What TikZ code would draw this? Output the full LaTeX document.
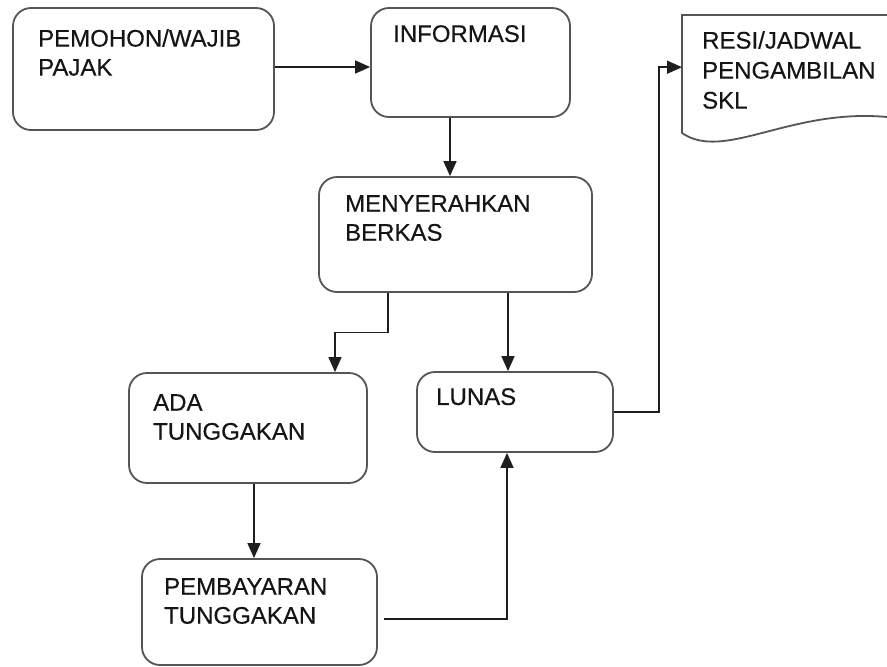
\documentclass[tikz,border=0pt]{standalone}
\usepackage{fontspec}
\setmainfont{Liberation Sans}
\newfontfamily\heavyfont{Liberation Sans}[FakeBold=0.4]
\usetikzlibrary{arrows.meta,calc}
\definecolor{boxline}{HTML}{555555}
\definecolor{arrline}{HTML}{1E1E1E}
\definecolor{txtcol}{HTML}{151515}
\tikzset{
  box/.style={draw=boxline, line width=1.8pt, rounded corners=18pt, inner sep=0pt},
  arr/.style={draw=arrline, line width=1.5pt, -{Triangle[length=15pt,width=13pt]}},
  txt/.style={anchor=north west, inner sep=0pt, align=left, text=txtcol,
              font=\heavyfont\fontsize{24}{29}\selectfont},
  doctxt/.style={txt, font=\heavyfont\fontsize{24}{30}\selectfont}
}
\begin{document}
\begin{tikzpicture}[x=1pt,y=-1pt]
\useasboundingbox (0,0) rectangle (887,667);
\fill[white] (0,0) rectangle (887,667);

% boxes
\node[box, minimum width=261pt, minimum height=122pt] (pem) at (143.5,69) {};
\node[box, minimum width=199pt, minimum height=109pt] (info) at (470.5,62.5) {};
\node[box, minimum width=273pt, minimum height=115pt] (men) at (455.5,234.5) {};
\node[box, minimum width=238pt, minimum height=110pt] (ada) at (248,428) {};
\node[box, minimum width=196pt, minimum height=80pt] (lunas) at (515,412) {};
\node[box, minimum width=235pt, minimum height=106pt] (pemb) at (259.5,612) {};

% document shape
\node[inner sep=0pt, minimum width=205pt, minimum height=122pt, anchor=north west] (doc) at (682,15) {};
\draw[boxline, line width=1.8pt] (887,15) -- (doc.north west) -- (682,133)
  .. controls (724,162) and (790,108) .. (887,117);

% texts
\node[txt] (pemt) at (38,29) {PEMOHON/WAJIB\\PAJAK};
\node[txt] (infot) at (393,25) {INFORMASI};
\node[txt] (ment) at (345,195) {MENYERAHKAN\\BERKAS};
\node[txt] (adat) at (153,394) {ADA\\TUNGGAKAN};
\node[txt] (lunast) at (436,388) {LUNAS};
\node[txt] (pembt) at (164,578) {PEMBAYARAN\\TUNGGAKAN};
\node[doctxt] (doct) at (702,31) {RESI/JADWAL\\PENGAMBILAN\\SKL};

% connectors
\coordinate (a1) at ([yshift=2pt]pem.east);
\draw[arr] (a1) -- (a1 -| info.west);

\coordinate (c1) at ([xshift=-20.5pt]info.south);
\draw[arr] (c1) -- (c1 |- men.north);

\coordinate (c2) at ([xshift=-67.5pt]men.south);
\coordinate (c3) at ([xshift=87pt]ada.north);
\draw[arr] (c2) |- ($(c2)!0.5!(c3)$) -| (c3);

\coordinate (c4) at ([xshift=-7pt]lunas.north);
\draw[arr] (c4 |- men.south) -- (c4);

\coordinate (c5) at ([xshift=6pt]ada.south);
\draw[arr] (c5) -- (c5 |- pemb.north);

\coordinate (c6) at ([xshift=6pt,yshift=-7pt]pemb.east);
\coordinate (c8) at ([xshift=-8pt]lunas.south);
\draw[arr] (c6) -| (c8);

\coordinate (c7) at ([yshift=9pt]doc.west);
\draw[arr] (lunas.east) -- ++(45,0) |- (c7);
\end{tikzpicture}
\end{document}
